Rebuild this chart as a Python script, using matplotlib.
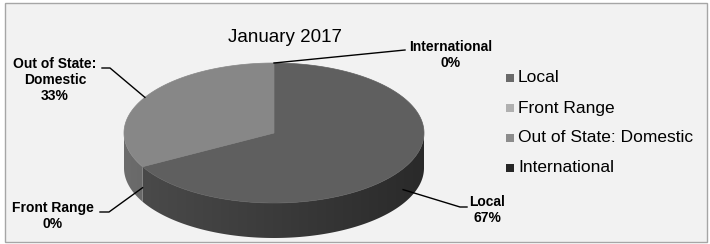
import numpy as np
import matplotlib.pyplot as plt
from matplotlib.patches import Polygon, Rectangle

plt.rcParams['font.family'] = ['Liberation Sans', 'DejaVu Sans']

# data
categories = ['Local', 'Front Range', 'Out of State: Domestic', 'International']
values = [67, 0, 33, 0]
chart_title = 'January 2017'

top_colors = ['#5f5f5f', '#b0b0b0', '#878787', '#262626']
legend_colors = ['#6a6a6a', '#b0b0b0', '#8c8c8c', '#262626']

# label placement (pixel coords) and leader elbows
label_pos = [(487, 210), (53, 216), (55, 80), (451, 55)]
elbows = [[(460, 207), (467, 207)],
          [(109, 212), (100, 212)],
          [(110, 68), (102, 68)],
          [(405, 50)]]

fig = plt.figure(figsize=(7.1, 2.44), dpi=100)
fig.patch.set_facecolor('white')
ax = fig.add_axes([0, 0, 1, 1])
ax.set_xlim(0, 710)
ax.set_ylim(244, 0)
ax.axis('off')

ax.add_patch(Rectangle((5, 3), 702, 239, facecolor='#f2f2f2',
                       edgecolor='#a6a6a6', lw=1))

cx, cy, rx, ry, depth = 274, 133, 150, 70, 35


def pt(a, dz=0.0):
    r = np.radians(a)
    return cx + rx * np.cos(r), cy - ry * np.sin(r) + dz


def rgb(hexcol):
    return np.array([int(hexcol[i:i + 2], 16) for i in (1, 3, 5)]) / 255.0


total = sum(values)
cum = np.concatenate([[0], np.cumsum(values)])
starts = 90 - 360 * cum[:-1] / total
ends = 90 - 360 * cum[1:] / total

# side walls (front half only), horizontal gradient clipped to the wall
gx = np.linspace(cx - rx, cx + rx, 300)
for v, a0, a1, col in zip(values, starts, ends, top_colors):
    if v == 0:
        continue
    arc = np.linspace(a0, a1, 400)
    front = arc[np.sin(np.radians(arc)) <= 0]
    if len(front) < 2:
        continue
    upper = [pt(a) for a in front]
    lower = [pt(a, depth) for a in front[::-1]]
    wall = Polygon(upper + lower, closed=True, facecolor='none',
                   edgecolor='none')
    ax.add_patch(wall)
    t = (gx - (cx - rx)) / (2 * rx)
    f = 0.8 * (1 - t) + 0.44 * t
    img = np.clip(rgb(col)[None, None, :] * f[None, :, None], 0, 1)
    im = ax.imshow(img, extent=(cx - rx, cx + rx, cy + ry + depth + 2,
                                cy - ry - 2),
                   aspect='auto', interpolation='bilinear', zorder=1)
    im.set_clip_path(wall)

# top surface
for v, a0, a1, col in zip(values, starts, ends, top_colors):
    if v == 0:
        continue
    arc = np.linspace(a0, a1, 200)
    verts = [(cx, cy)] + [pt(a) for a in arc]
    ax.add_patch(Polygon(verts, closed=True, facecolor=col, edgecolor=col,
                         lw=0.5, zorder=2))

# data labels with leader lines
for name, v, a0, a1, (lx, ly), elb in zip(categories, values, starts, ends,
                                          label_pos, elbows):
    mid = (a0 + a1) / 2
    dz = depth * 0.6 if np.sin(np.radians(mid)) < 0 else 0
    anchor = pt(mid, dz)
    xs = [anchor[0]] + [p[0] for p in elb]
    ys = [anchor[1]] + [p[1] for p in elb]
    ax.plot(xs, ys, color='black', lw=1, zorder=3)
    txt = name.replace(': ', ':\n') + '\n{:d}%'.format(round(100 * v / total))
    ax.text(lx, ly, txt, ha='center', va='center', fontsize=10,
            fontweight='bold', linespacing=1.2)

ax.text(285, 38, chart_title, ha='center', va='center', fontsize=13.5)

# legend
for i, (name, col) in enumerate(zip(categories, legend_colors)):
    y = 78 + 30 * i
    ax.add_patch(Rectangle((506, y - 4), 8, 8, facecolor=col, edgecolor='none'))
    ax.text(518, y, name, ha='left', va='center', fontsize=12.5)

ax.set_xlim(0, 710)
ax.set_ylim(244, 0)
fig.savefig('out.png', dpi=100)
